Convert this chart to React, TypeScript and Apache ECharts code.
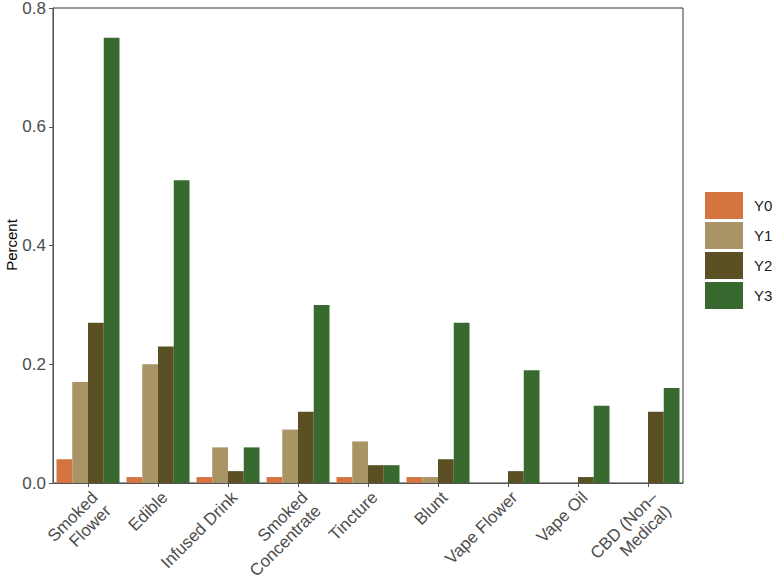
import React, { useEffect, useRef } from "react";
import * as echarts from "echarts";

const categories = [
  "Smoked\nFlower",
  "Edible",
  "Infused Drink",
  "Smoked\nConcentrate",
  "Tincture",
  "Blunt",
  "Vape Flower",
  "Vape Oil",
  "CBD (Non–\nMedical)",
];
const seriesNames = ["Y0", "Y1", "Y2", "Y3"];
const y0 = [0.04, 0.01, 0.01, 0.01, 0.01, 0.01, 0, 0, 0];
const y1 = [0.17, 0.2, 0.06, 0.09, 0.07, 0.01, 0, 0, 0];
const y2 = [0.27, 0.23, 0.02, 0.12, 0.03, 0.04, 0.02, 0.01, 0.12];
const y3 = [0.75, 0.51, 0.06, 0.3, 0.03, 0.27, 0.19, 0.13, 0.16];
const colors = ["#D47440", "#A89464", "#5A5023", "#386A30"];
const yTicks = [0, 0.2, 0.4, 0.6, 0.8];
const yTitle = "Percent";

export default function App() {
  const ref = useRef<HTMLDivElement>(null);
  useEffect(() => {
    if (!ref.current) return;
    const chart = echarts.init(ref.current, undefined, { renderer: "svg" });
    const values = [y0, y1, y2, y3];
    chart.setOption({
      animation: false,
      backgroundColor: "#ffffff",
      textStyle: { fontFamily: "Liberation Sans, Arial, sans-serif" },
      grid: {
        left: 53,
        right: 94,
        top: 8,
        bottom: 98,
        outerBoundsMode: "none",
        containLabel: false,
        show: true,
        borderColor: "#333333",
        borderWidth: 1,
        backgroundColor: "transparent",
      },
      graphic: [
        {
          type: "text",
          x: 11,
          y: 245,
          rotation: Math.PI / 2,
          style: {
            text: yTitle,
            fontSize: 15,
            fill: "#000000",
            align: "center",
            verticalAlign: "middle",
            fontFamily: "Liberation Sans, Arial, sans-serif",
          },
        },
      ],
      legend: {
        orient: "vertical",
        left: 700,
        top: 187,
        itemWidth: 38,
        itemHeight: 27,
        itemGap: 3,
        icon: "rect",
        data: seriesNames,
        textStyle: { fontSize: 15, color: "#1a1a1a", padding: [0, 0, 0, 6] },
      },
      xAxis: {
        type: "category",
        data: categories,
        axisLine: { show: true, lineStyle: { color: "#555555" } },
        axisTick: { show: true, alignWithLabel: true, length: 4, lineStyle: { color: "#555555" } },
        axisLabel: {
          rotate: 45,
          fontSize: 17,
          color: "#4d4d4d",
          lineHeight: 19,
          interval: 0,
          margin: 5,
          align: "right",
          verticalAlign: "top",
        },
      },
      yAxis: {
        type: "value",
        min: yTicks[0],
        max: yTicks[yTicks.length - 1],
        interval: 0.2,
        splitLine: { show: false },
        axisLine: { show: true, lineStyle: { color: "#555555" } },
        axisTick: { show: true, length: 4, lineStyle: { color: "#555555" } },
        axisLabel: {
          fontSize: 17,
          color: "#4d4d4d",
          margin: 7,
          formatter: (v: number) => v.toFixed(1),
        },
      },
      series: seriesNames.map((name, i) => ({
        name,
        type: "bar",
        data: values[i],
        barGap: "0%",
        barCategoryGap: "10%",
        itemStyle: { color: colors[i] },
      })),
    });
    return () => chart.dispose();
  }, []);
  return (
    <div
      ref={ref}
      style={{ position: "fixed", left: 0, top: 0, width: 777, height: 581 }}
    />
  );
}
